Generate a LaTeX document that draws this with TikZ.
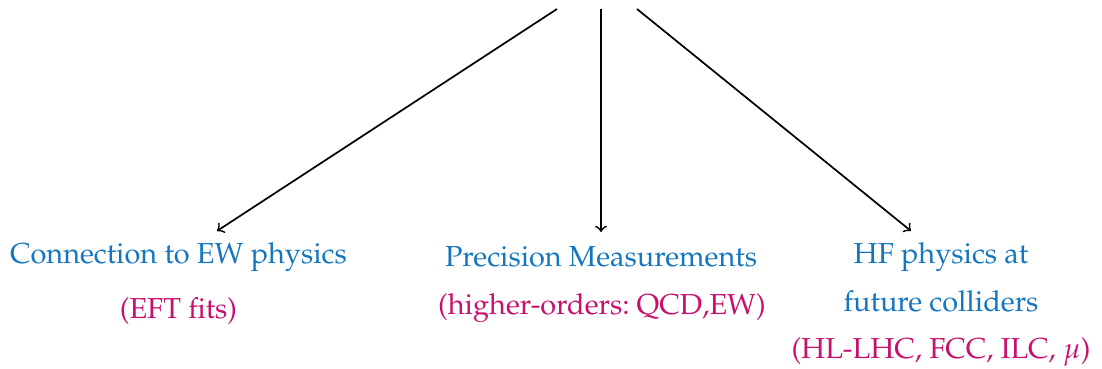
\documentclass[tikz,border=0pt]{standalone}
\usepackage[T1]{fontenc}
\usepackage{mathpazo}
\definecolor{tblue}{RGB}{20,118,190}
\definecolor{tmag}{RGB}{200,16,110}
\begin{document}
\begin{tikzpicture}[x=0.35pt,y=-0.35pt,
  lbl/.style={anchor=base,inner sep=0pt,font=\fontsize{10.12}{12}\selectfont},
  head/.style={lbl,text=tblue},
  sub/.style={lbl,text=tmag},
  arr/.style={->,line width=0.6pt}]
\useasboundingbox (0,0) rectangle (1102,369);
\node[head] (c1) at (178.5,263) {Connection to EW physics};
\node[sub] (s1) at (178.5,318) {(EFT fits)};
\node[head] (c2) at (601,266) {Precision Measurements};
\node[sub] (s2) at (602,315) {(higher-orders:\ QCD,EW)};
\node[head] (c3) at (941,263) {HF physics at};
\node[head] (c3b) at (941,312) {future colliders};
\node[sub] (s3) at (941,358) {(HL-LHC, FCC, ILC, $\mu$)};
\coordinate (t1) at (557,9);
\coordinate (t2) at (601,9);
\coordinate (t3) at (637,9);
\coordinate (e1) at (217,231);
\coordinate (e2) at (601,232);
\coordinate (e3) at (911,231);
\draw[arr] (t1) -- (e1);
\draw[arr] (t2) -- (e2);
\draw[arr] (t3) -- (e3);
\end{tikzpicture}
\end{document}
